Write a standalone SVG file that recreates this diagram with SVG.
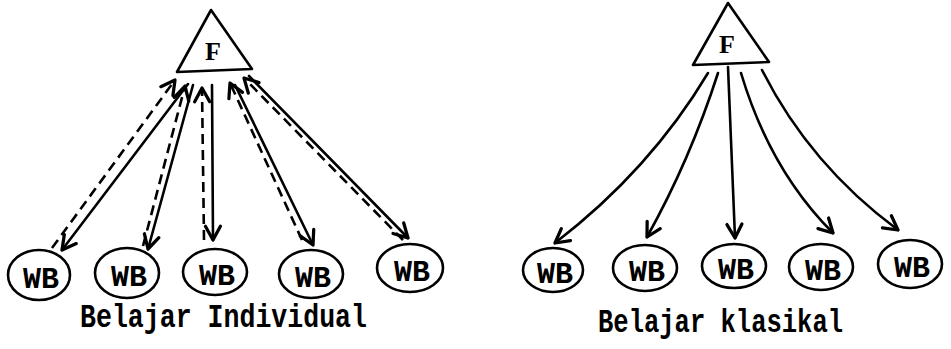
<svg xmlns="http://www.w3.org/2000/svg" width="951" height="349" viewBox="0 0 951 349">
  <style>
    .shape { fill: none; stroke: #000; stroke-width: 2.6; stroke-linejoin: round; }
    .solid { fill: none; stroke: #000; stroke-width: 2.6; stroke-linecap: round; marker-end: url(#head); }
    .dash { fill: none; stroke: #000; stroke-width: 2.6; stroke-dasharray: 10 6; marker-end: url(#head); }
    .curve { fill: none; stroke: #000; stroke-width: 2.6; stroke-linecap: round; marker-end: url(#head); }
    .lbl { font-family: "Liberation Mono", "DejaVu Sans Mono", monospace; font-weight: bold; font-size: 30px; text-anchor: middle; fill: #000; }
    .f { font-family: "Liberation Serif", "DejaVu Serif", serif; font-weight: bold; font-size: 26px; text-anchor: middle; fill: #000; }
    .cap { font-family: "Liberation Mono", "DejaVu Sans Mono", monospace; font-weight: bold; font-size: 34px; fill: #000; }
  </style>
  <defs>
    <marker id="head" markerUnits="userSpaceOnUse" markerWidth="20" markerHeight="20" viewBox="-12 -8 14 16" refX="0" refY="0" orient="auto">
      <path d="M-11,-6 L0,0 L-11,6" fill="none" stroke="#000" stroke-width="2.6" stroke-linecap="round" stroke-linejoin="round"/>
    </marker>
  </defs>

  <rect width="951" height="349" fill="#fff"/>

  <!-- Individual learning: facilitator and learners -->
  <g id="F-individual">
    <polygon class="shape" points="211,10 252,69 177,72"/>
    <text class="f" x="213" y="60">F</text>
  </g>
  <g id="wb-i1"><ellipse class="shape" cx="39" cy="275" rx="31" ry="25"/><text class="lbl" x="41" y="288">WB</text></g>
  <g id="wb-i2"><ellipse class="shape" cx="127" cy="273" rx="32" ry="25"/><text class="lbl" x="129" y="286">WB</text></g>
  <g id="wb-i3"><ellipse class="shape" cx="215" cy="272" rx="32" ry="23"/><text class="lbl" x="217" y="285">WB</text></g>
  <g id="wb-i4"><ellipse class="shape" cx="311" cy="274" rx="32" ry="24"/><text class="lbl" x="313" y="287">WB</text></g>
  <g id="wb-i5"><ellipse class="shape" cx="410" cy="268" rx="33" ry="24"/><text class="lbl" x="412" y="281">WB</text></g>

  <!-- Classical learning: facilitator and learners -->
  <g id="F-klasikal">
    <polygon class="shape" points="728,3 769,62 693,65"/>
    <text class="f" x="727" y="53">F</text>
  </g>
  <g id="wb-k1"><ellipse class="shape" cx="553" cy="270" rx="30" ry="22"/><text class="lbl" x="555" y="283">WB</text></g>
  <g id="wb-k2"><ellipse class="shape" cx="645" cy="268" rx="32" ry="23"/><text class="lbl" x="647" y="281">WB</text></g>
  <g id="wb-k3"><ellipse class="shape" cx="734" cy="266" rx="32" ry="22"/><text class="lbl" x="736" y="279">WB</text></g>
  <g id="wb-k4"><ellipse class="shape" cx="821" cy="267" rx="32" ry="23"/><text class="lbl" x="823" y="280">WB</text></g>
  <g id="wb-k5"><ellipse class="shape" cx="910" cy="264" rx="32" ry="24"/><text class="lbl" x="912" y="277">WB</text></g>

  <g id="connectors">
    <!-- two-way: solid down, dashed up -->
    <line class="solid" x1="188" y1="84" x2="62" y2="250"/>
    <line class="dash" x1="52" y1="248" x2="175" y2="80"/>
    <line class="solid" x1="193" y1="85" x2="148" y2="249"/>
    <line class="dash" x1="143" y1="246" x2="185" y2="86"/>
    <line class="solid" x1="212" y1="85" x2="213" y2="240"/>
    <line class="dash" x1="204" y1="240" x2="202" y2="88"/>
    <line class="solid" x1="235" y1="85" x2="313" y2="245"/>
    <line class="dash" x1="302" y1="240" x2="230" y2="83"/>
    <line class="solid" x1="249" y1="76" x2="408" y2="238"/>
    <line class="dash" x1="403" y1="240" x2="244" y2="78"/>

    <!-- one-way fan-out -->
    <path class="curve" d="M708,73 Q650,170 555,243"/>
    <path class="curve" d="M718,73 Q690,160 647,237"/>
    <path class="curve" d="M728,67 L735,238"/>
    <path class="curve" d="M741,73 Q770,170 833,233"/>
    <path class="curve" d="M762,70 Q810,165 898,230"/>
  </g>

  <text class="cap" x="80" y="327" textLength="287" lengthAdjust="spacingAndGlyphs">Belajar Individual</text>
  <text class="cap" x="598" y="332" textLength="245" lengthAdjust="spacingAndGlyphs">Belajar klasikal</text>
</svg>
